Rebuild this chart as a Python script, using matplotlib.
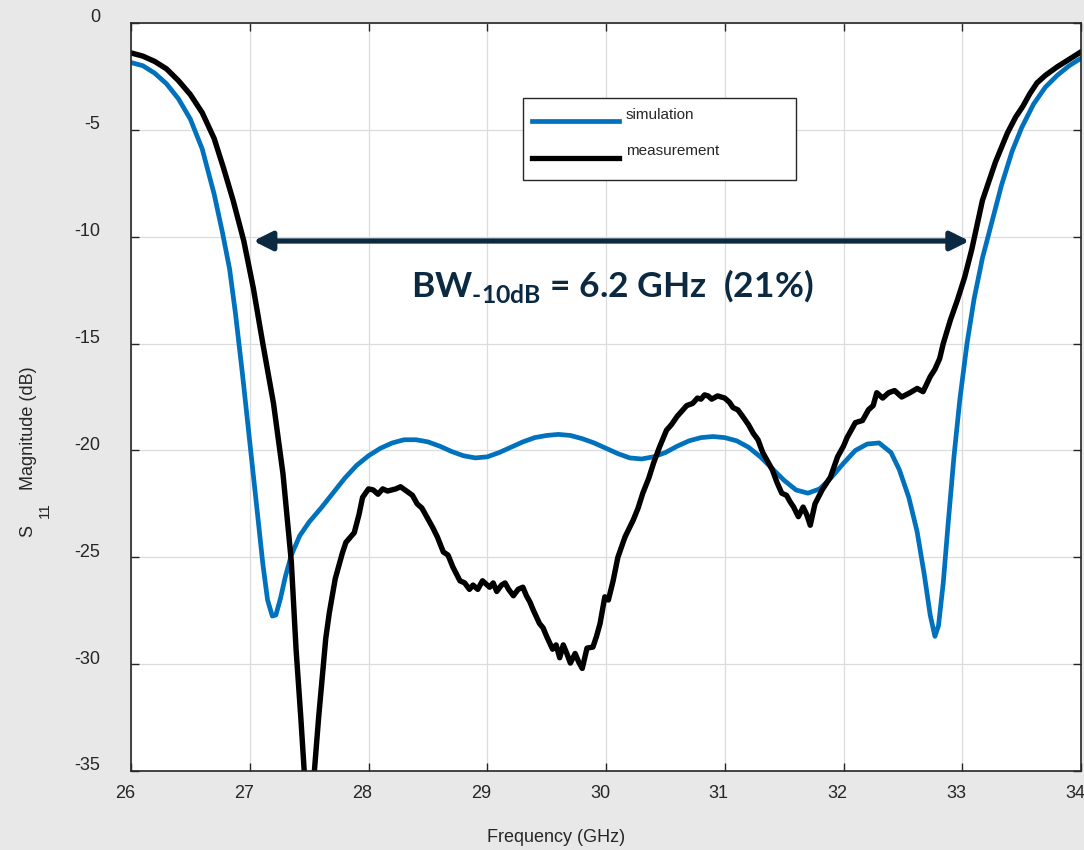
import numpy as np
import matplotlib
matplotlib.use('Agg')
import matplotlib.pyplot as plt
from matplotlib import rcParams
from matplotlib.patches import Rectangle
from matplotlib.transforms import ScaledTranslation

rcParams['font.family'] = ['Liberation Sans', 'DejaVu Sans']
rcParams['axes.unicode_minus'] = False
rcParams['mathtext.fontset'] = 'custom'
rcParams['mathtext.rm'] = 'Lato:bold'

# simulated S11 (GHz, dB)
sim_f = [26.0, 26.1, 26.2, 26.3, 26.4, 26.5, 26.6, 26.7, 26.77, 26.83,
         26.88, 26.94, 27.0, 27.06, 27.11, 27.15, 27.19, 27.22, 27.26, 27.30,
         27.35, 27.42, 27.5, 27.6, 27.7, 27.8, 27.9, 28.0, 28.1, 28.2,
         28.3, 28.4, 28.5, 28.6, 28.7, 28.8, 28.9, 29.0, 29.1, 29.2,
         29.3, 29.4, 29.5, 29.6, 29.7, 29.8, 29.9, 30.0, 30.1, 30.2,
         30.3, 30.4, 30.5, 30.6, 30.7, 30.8, 30.9, 31.0, 31.1, 31.2,
         31.3, 31.4, 31.5, 31.6, 31.7, 31.8, 31.9, 32.0, 32.1, 32.2,
         32.3, 32.4, 32.47, 32.55, 32.62, 32.68, 32.73, 32.77, 32.80, 32.84,
         32.88, 32.93, 32.98, 33.04, 33.10, 33.17, 33.25, 33.33, 33.42, 33.50,
         33.60, 33.70, 33.80, 33.90, 34.0]
sim_db = [-1.85, -2.0, -2.35, -2.85, -3.55, -4.5, -5.9, -8.0, -9.8, -11.5,
          -13.6, -16.5, -19.6, -22.7, -25.3, -27.0, -27.75, -27.7, -26.9, -25.9,
          -24.9, -24.0, -23.35, -22.7, -22.0, -21.3, -20.7, -20.25, -19.9, -19.65,
          -19.5, -19.5, -19.6, -19.8, -20.05, -20.25, -20.35, -20.3, -20.1, -19.85,
          -19.6, -19.4, -19.3, -19.25, -19.3, -19.45, -19.65, -19.9, -20.15, -20.35,
          -20.4, -20.3, -20.1, -19.8, -19.55, -19.4, -19.35, -19.4, -19.55, -19.85,
          -20.3, -20.85, -21.4, -21.85, -22.0, -21.8, -21.25, -20.6, -20.0, -19.7,
          -19.65, -20.1, -20.9, -22.2, -23.8, -25.8, -27.7, -28.7, -28.2, -26.2,
          -23.5, -20.3, -17.6, -15.0, -12.9, -11.0, -9.3, -7.6, -6.0, -4.9,
          -3.8, -3.0, -2.45, -2.0, -1.65]

# measured S11 (GHz, dB)
meas_f = [26.0, 26.1, 26.2, 26.3, 26.4, 26.5, 26.6, 26.7, 26.78, 26.86,
          26.95, 27.03, 27.11, 27.2, 27.28, 27.35, 27.39, 27.43, 27.47, 27.50,
          27.53, 27.58, 27.64, 27.67, 27.72, 27.78, 27.81, 27.88, 27.92, 27.95,
          28.0, 28.04, 28.08, 28.12, 28.16, 28.23, 28.27, 28.32, 28.37, 28.41,
          28.45, 28.49, 28.54, 28.58, 28.63, 28.67, 28.71, 28.77, 28.81, 28.85,
          28.88, 28.92, 28.96, 29.02, 29.05, 29.08, 29.12, 29.15, 29.18, 29.22,
          29.26, 29.30, 29.33, 29.36, 29.39, 29.44, 29.47, 29.50, 29.55, 29.58,
          29.61, 29.64, 29.67, 29.70, 29.74, 29.77, 29.80, 29.84, 29.89, 29.92,
          29.95, 29.99, 30.02, 30.06, 30.10, 30.16, 30.23, 30.27, 30.31, 30.36,
          30.40, 30.45, 30.51, 30.55, 30.60, 30.68, 30.73, 30.77, 30.80, 30.83,
          30.86, 30.89, 30.94, 31.00, 31.04, 31.07, 31.11, 31.15, 31.20, 31.24,
          31.28, 31.32, 31.36, 31.40, 31.44, 31.48, 31.52, 31.55, 31.58, 31.62,
          31.66, 31.69, 31.72, 31.76, 31.82, 31.89, 31.95, 32.0, 32.03, 32.10,
          32.16, 32.21, 32.25, 32.28, 32.33, 32.38, 32.43, 32.49, 32.56, 32.62,
          32.67, 32.73, 32.77, 32.81, 32.84, 32.90, 32.96, 33.02, 33.08, 33.17,
          33.28, 33.38, 33.45, 33.51, 33.57, 33.63, 33.70, 33.80, 33.90, 34.0]
meas_db = [-1.4, -1.55, -1.8, -2.15, -2.7, -3.35, -4.2, -5.4, -6.8, -8.3,
           -10.2, -12.4, -15.0, -17.8, -21.1, -25.2, -29.3, -32.5, -36.0, -38.0,
           -36.0, -32.5, -28.8, -27.6, -26.0, -24.8, -24.3, -23.85, -23.0, -22.2,
           -21.8, -21.85, -22.05, -21.8, -21.9, -21.8, -21.7, -21.9, -22.1, -22.5,
           -22.7, -23.1, -23.6, -24.05, -24.75, -24.9, -25.45, -26.1, -26.2, -26.5,
           -26.3, -26.5, -26.1, -26.4, -26.2, -26.6, -26.3, -26.2, -26.5, -26.8,
           -26.5, -26.4, -26.8, -27.1, -27.5, -28.1, -28.3, -28.7, -29.3, -29.1,
           -29.7, -29.1, -29.5, -29.95, -29.5, -29.9, -30.2, -29.25, -29.2, -28.7,
           -28.1, -26.85, -27.0, -26.1, -25.0, -24.05, -23.25, -22.7, -22.0, -21.3,
           -20.6, -19.85, -19.05, -18.8, -18.4, -17.9, -17.8, -17.55, -17.6, -17.4,
           -17.45, -17.6, -17.45, -17.55, -17.75, -18.0, -18.1, -18.4, -18.8, -19.2,
           -19.5, -20.1, -20.5, -20.9, -21.5, -22.0, -22.1, -22.4, -22.65, -23.1,
           -22.65, -23.0, -23.5, -22.5, -21.85, -21.25, -20.3, -19.8, -19.4, -18.7,
           -18.6, -18.1, -17.9, -17.3, -17.55, -17.3, -17.2, -17.5, -17.3, -17.1,
           -17.25, -16.55, -16.2, -15.7, -15.0, -13.9, -12.95, -11.9, -10.6, -8.3,
           -6.5, -5.15, -4.4, -3.9, -3.3, -2.8, -2.45, -2.05, -1.7, -1.35]

bw_lo, bw_hi, bw_level = 27.03, 33.06, -10.2
xticks = [26, 27, 28, 29, 30, 31, 32, 33, 34]
yticks = [-35, -30, -25, -20, -15, -10, -5, 0]

navy = '#0b2a42'
fig = plt.figure(figsize=(10.84, 8.5), dpi=100, facecolor='#e8e8e8')
ax = fig.add_axes([131 / 1084, 1 - 771 / 850, 950 / 1084, 748 / 850])
ax.set_facecolor('white')

ax.plot(sim_f, sim_db, color='#0072BD', lw=3.4, solid_joinstyle='round')
ax.plot(meas_f, meas_db, color='black', lw=3.9, solid_joinstyle='round')

ax.set_xlim(26, 34)
ax.set_ylim(-35, 0)
ax.set_xticks(xticks)
ax.set_yticks(yticks)
ax.grid(True, color='#dcdcdc', lw=0.9)
ax.set_axisbelow(True)
ax.tick_params(direction='in', length=6, width=1.0, colors='#262626',
               labelsize=13, top=True, right=True)
ax.tick_params(axis='y', pad=22)
ax.tick_params(axis='x', pad=10)
for s in ax.spines.values():
    s.set_color('#262626')
    s.set_linewidth(1.2)

for lab in ax.get_yticklabels():
    lab.set_transform(lab.get_transform() + ScaledTranslation(0, 0.07, fig.dpi_scale_trans))
for lab in ax.get_xticklabels():
    lab.set_transform(lab.get_transform() + ScaledTranslation(-0.06, 0, fig.dpi_scale_trans))

ax.set_xlabel('Frequency (GHz)', fontsize=13, color='#262626')
ax.xaxis.set_label_coords(0.447, -0.078)
ax.set_ylabel('S       Magnitude (dB)', fontsize=13, color='#262626')
ax.yaxis.set_label_coords(-0.099, 0.427)
# subscript of S11, sits well below the S as in the original
fig.text(45 / 1084, 1 - 510 / 850, '11', fontsize=11, rotation=90,
         ha='center', va='center', color='#262626')

# legend drawn as a box
ax.add_patch(Rectangle((0.4126, 0.7901), 0.2874, 0.1096, transform=ax.transAxes,
                       facecolor='white', edgecolor='#262626', lw=1.0, zorder=5))
ax.plot([0.4221, 0.5137], [0.869, 0.869], color='#0072BD', lw=3.4,
        transform=ax.transAxes, zorder=6)
ax.plot([0.4221, 0.5137], [0.8195, 0.8195], color='black', lw=3.8,
        transform=ax.transAxes, zorder=6)
ax.text(0.521, 0.877, 'simulation', fontsize=11, va='center', ha='left',
        color='#262626', transform=ax.transAxes, zorder=6)
ax.text(0.521, 0.829, 'measurement', fontsize=11, va='center', ha='left',
        color='#262626', transform=ax.transAxes, zorder=6)

# -10 dB bandwidth arrow
ax.annotate('', xy=(bw_hi, bw_level), xytext=(bw_lo, bw_level),
            arrowprops=dict(arrowstyle='<|-|>', color=navy, lw=3.8,
                            mutation_scale=28, shrinkA=0, shrinkB=0))
ax.text(30.05, -12.3, r'BW$_{\text{-10dB}}$ = 6.2 GHz  (21%)', fontsize=25.5,
        family='Lato', weight='bold', color=navy, ha='center', va='center')

plt.savefig('out.png', dpi=100, facecolor=fig.get_facecolor())
